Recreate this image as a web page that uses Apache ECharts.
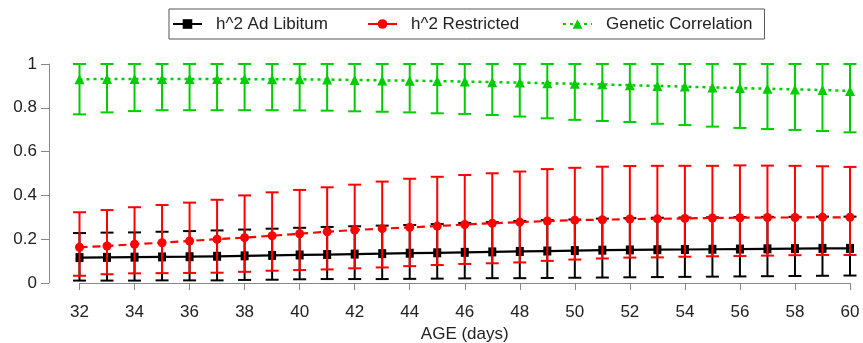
<!DOCTYPE html>
<html>
<head>
<meta charset="utf-8">
<script src="https://cdn.jsdelivr.net/npm/echarts@6/dist/echarts.min.js"></script>
<style>html,body{margin:0;padding:0;background:#fff}#c{width:863px;height:343px}</style>
</head>
<body>
<div id="c"></div>
<script>
const days = [32,33,34,35,36,37,38,39,40,41,42,43,44,45,46,47,48,49,50,51,52,53,54,55,56,57,58,59,60];
const xTicks = [32,34,36,38,40,42,44,46,48,50,52,54,56,58,60];
const yTickLabels = ['0','0.2','0.4','0.6','0.8','1'];
const seriesNames = ['h^2 Ad Libitum','h^2 Restricted','Genetic Correlation'];

const adMean = [0.116,0.117,0.118,0.119,0.120,0.122,0.124,0.126,0.128,0.130,0.132,0.134,0.136,0.138,0.140,0.142,0.144,0.146,0.148,0.150,0.151,0.152,0.153,0.154,0.155,0.156,0.157,0.158,0.158];
const adLow  = [0.011,0.011,0.011,0.012,0.012,0.012,0.014,0.015,0.017,0.018,0.018,0.018,0.019,0.020,0.021,0.022,0.022,0.023,0.024,0.025,0.026,0.027,0.028,0.029,0.030,0.031,0.032,0.033,0.034];
const adHigh = [0.228,0.230,0.231,0.234,0.237,0.240,0.244,0.248,0.252,0.256,0.259,0.262,0.265,0.269,0.274,0.278,0.283,0.287,0.290,0.294,0.296,0.298,0.299,0.300,0.301,0.302,0.302,0.303,0.303];

const resMean = [0.163,0.169,0.177,0.184,0.192,0.200,0.207,0.216,0.225,0.234,0.242,0.248,0.254,0.260,0.267,0.273,0.278,0.283,0.287,0.289,0.292,0.293,0.295,0.297,0.298,0.299,0.299,0.300,0.300];
const resLow  = [0.033,0.040,0.044,0.045,0.046,0.047,0.051,0.056,0.059,0.062,0.067,0.071,0.077,0.082,0.087,0.090,0.094,0.101,0.107,0.112,0.116,0.117,0.120,0.122,0.123,0.125,0.127,0.128,0.128];
const resHigh = [0.323,0.333,0.346,0.356,0.367,0.380,0.400,0.414,0.425,0.437,0.449,0.463,0.476,0.485,0.493,0.501,0.509,0.520,0.526,0.531,0.534,0.535,0.535,0.535,0.537,0.536,0.535,0.533,0.530];

const gcMean = [0.930,0.932,0.932,0.932,0.932,0.931,0.931,0.930,0.930,0.929,0.927,0.925,0.924,0.922,0.920,0.917,0.915,0.912,0.910,0.907,0.903,0.900,0.897,0.893,0.890,0.887,0.884,0.881,0.877];
const gcLow  = [0.770,0.779,0.785,0.789,0.789,0.789,0.789,0.789,0.788,0.787,0.784,0.782,0.779,0.775,0.772,0.767,0.760,0.752,0.745,0.740,0.735,0.727,0.721,0.714,0.708,0.703,0.699,0.694,0.688];
const gcHigh = [1,1,1,1,1,1,1,1,1,1,1,1,1,1,1,1,1,1,1,1,1,1,1,1,1,1,1,1,1];

const colors = ['#000000','#ff0000','#00cd00'];
const FONT = '"Liberation Sans", Arial, sans-serif';

function pts(mean){ return days.map((d,i)=>[d, mean[i]]); }
function errs(lo, hi){ return days.map((d,i)=>[d, lo[i], hi[i]]); }

function errSeries(lo, hi, color, z){
  return {
    type:'custom', z:z, clip:false, silent:true,
    encode:{x:0, y:[1,2]},
    data: errs(lo, hi),
    renderItem: function(params, api){
      const x = api.value(0);
      const a = api.coord([x, api.value(1)]);
      const b = api.coord([x, api.value(2)]);
      const hw = 6.5;
      const st = {stroke: color, lineWidth: 2};
      return {type:'group', children:[
        {type:'line', shape:{x1:a[0], y1:a[1], x2:b[0], y2:b[1]}, style:st},
        {type:'line', shape:{x1:a[0]-hw, y1:a[1], x2:a[0]+hw, y2:a[1]}, style:st},
        {type:'line', shape:{x1:b[0]-hw, y1:b[1], x2:b[0]+hw, y2:b[1]}, style:st}
      ]};
    }
  };
}

const chart = echarts.init(document.getElementById('c'), null, {renderer:'canvas'});
chart.setOption({
  animation:false,
  backgroundColor:'#fff',
  textStyle:{fontFamily:FONT},
  grid:{left:79.5, right:13, top:64, bottom:60, containLabel:false, outerBoundsMode:'none'},
  legend:{
    data: [
      {name:seriesNames[0]},
      {name:seriesNames[1], lineStyle:{type:'solid'}},
      {name:seriesNames[2]}
    ],
    left:169, top:9,
    orient:'horizontal',
    itemWidth:29, itemHeight:12, itemGap:6,
    padding:[5,12,5,3],
    borderColor:'#555', borderWidth:1,
    textStyle:{fontFamily:FONT, fontSize:17, color:'#222', lineHeight:20, width:145, padding:[0,0,0,9]}
  },
  xAxis:{
    type:'value', min:32, max:60, interval:2, offset:10,
    name:'AGE (days)', nameLocation:'middle', nameGap:30,
    nameTextStyle:{fontFamily:FONT, fontSize:17, color:'#222'},
    axisLine:{show:true, lineStyle:{color:'#888', width:1}},
    axisTick:{show:true, length:7, lineStyle:{color:'#888'}},
    axisLabel:{fontFamily:FONT, fontSize:17, color:'#222', margin:11},
    splitLine:{show:false}
  },
  yAxis:{
    type:'value', min:0, max:1, interval:0.2, offset:30.5,
    axisLine:{show:true, lineStyle:{color:'#888', width:1}},
    axisTick:{show:true, length:8, lineStyle:{color:'#888'}},
    axisLabel:{fontFamily:FONT, fontSize:17, color:'#222', margin:12,
      formatter:function(v){ return yTickLabels[Math.round(v/0.2)]; }},
    splitLine:{show:false}
  },
  series:[
    errSeries(adLow, adHigh, colors[0], 2),
    {name:seriesNames[0], type:'line', z:3, data:pts(adMean), symbol:'rect', symbolSize:[8,9],
     itemStyle:{color:colors[0]}, lineStyle:{color:colors[0], width:2.2, type:'solid'}},
    errSeries(resLow, resHigh, colors[1], 4),
    {name:seriesNames[1], type:'line', z:5, data:pts(resMean), symbol:'circle', symbolSize:9,
     itemStyle:{color:colors[1]}, lineStyle:{color:colors[1], width:2.2, type:[8,5]}},
    errSeries(gcLow, gcHigh, colors[2], 6),
    {name:seriesNames[2], type:'line', z:7, data:pts(gcMean), symbol:'triangle', symbolSize:10,
     itemStyle:{color:colors[2]}, lineStyle:{color:colors[2], width:2.5, type:[3,4]}}
  ]
});
</script>
</body>
</html>
